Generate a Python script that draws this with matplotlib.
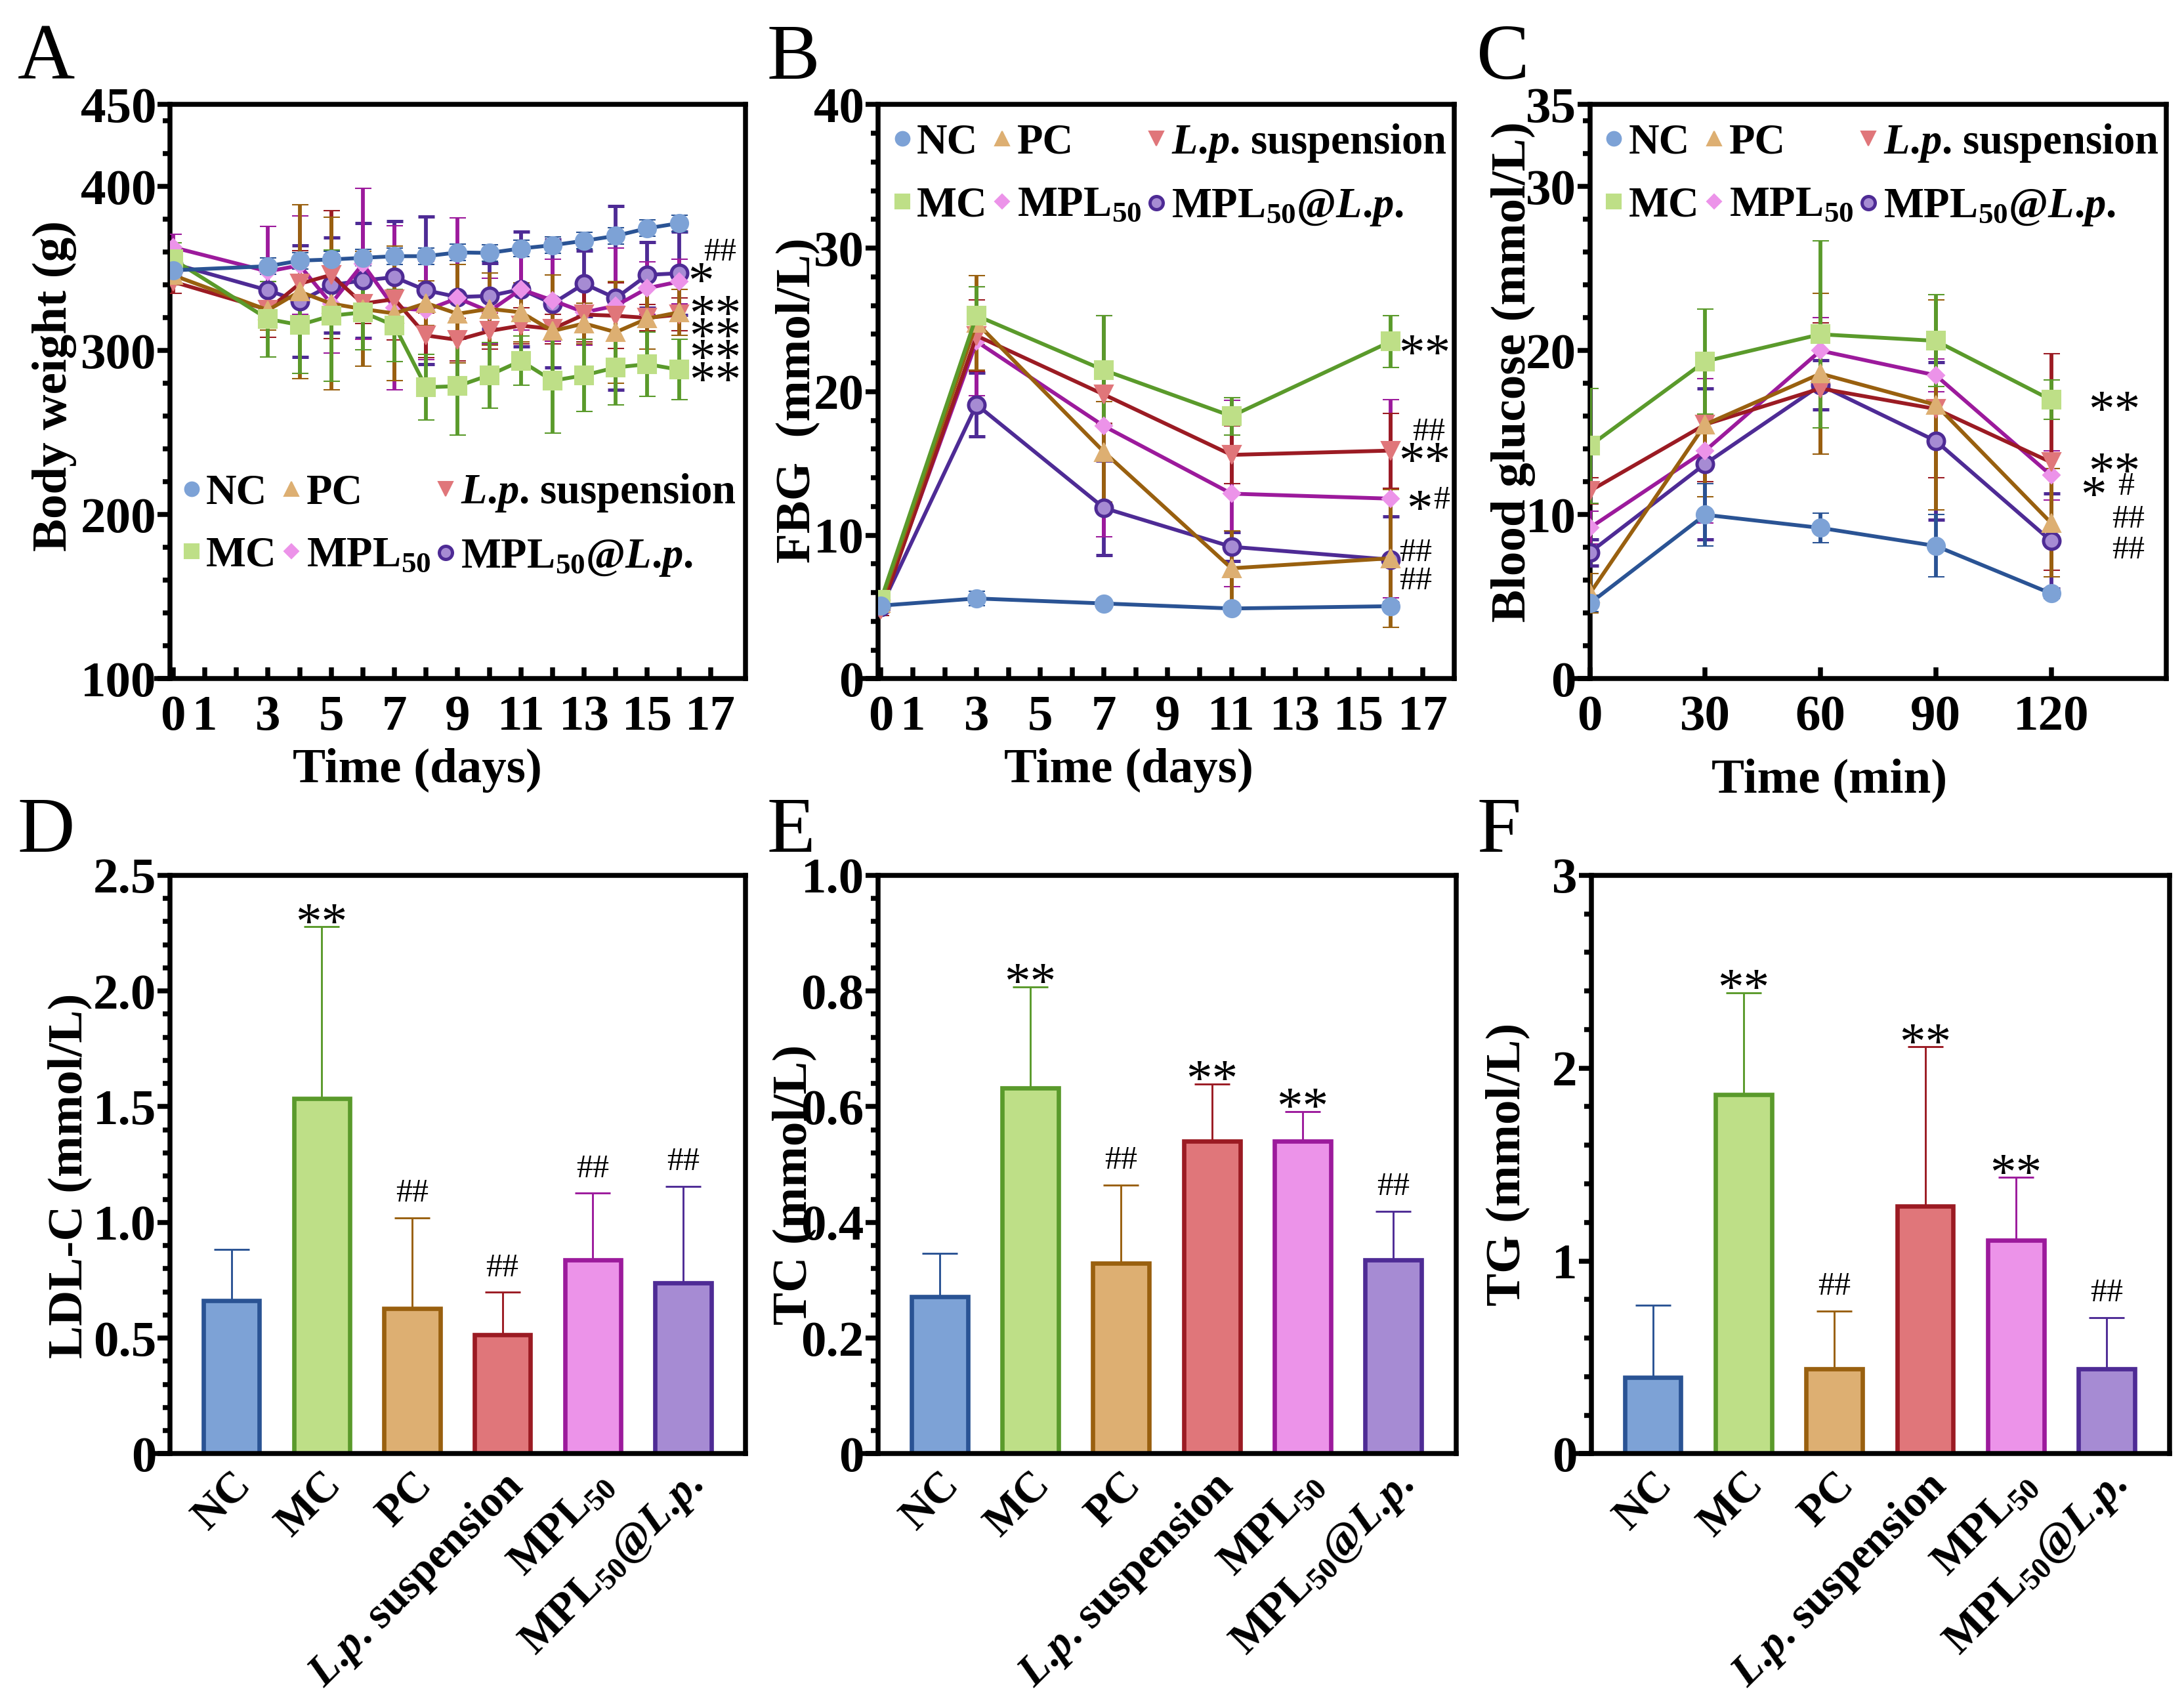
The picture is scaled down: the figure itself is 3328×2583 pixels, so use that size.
import numpy as np
import matplotlib
matplotlib.use('Agg')
import matplotlib.pyplot as plt
from matplotlib.lines import Line2D
from matplotlib.ticker import MultipleLocator, FixedLocator

plt.rcParams['font.family'] = ['Liberation Serif', 'DejaVu Serif']
plt.rcParams['font.weight'] = 'bold'
plt.rcParams['axes.labelweight'] = 'bold'
plt.rcParams['mathtext.fontset'] = 'custom'
plt.rcParams['mathtext.rm'] = 'Liberation Serif:bold'
plt.rcParams['mathtext.it'] = 'Liberation Serif:italic:bold'
plt.rcParams['mathtext.bf'] = 'Liberation Serif:bold'
plt.rcParams['mathtext.default'] = 'rm'

# ---------------- data ----------------
GROUP_KEYS = ['NC', 'MC', 'PC', 'LP', 'MPL', 'MPLLP']
GROUP_LABELS = ['NC', 'MC', 'PC', r'$\mathit{L}$.$\mathit{p}$. suspension', r'MPL$_{50}$',
                r'MPL$_{50}$@$\mathit{L}$.$\mathit{p}$.']

# Panel A: body weight
DAYS_A = [0, 3, 4, 5, 6, 7, 8, 9, 10, 11, 12, 13, 14, 15, 16]
BW_NC = [349, 351.5, 354.9, 355.6, 356.6, 357.6, 357.6, 359.9, 359.6, 362.3, 364.3, 367, 370, 374.6, 377.7]
BW_NC_SD = [5, 5, 5, 5, 5, 5, 5, 5, 5, 5, 5, 5, 5, 5, 5]
BW_MC = [355.6, 319.3, 315.7, 321.3, 323.4, 315.3, 277.7, 278.4, 285.1, 293.8, 281.7, 285, 289.8, 291.8, 288.4]
BW_MC_SD = [10, 23, 29.5, 40, 23, 22, 20, 30, 20, 15, 32, 22, 22.7, 19.6, 18.4]
BW_PC = [346, 324.7, 336, 328.7, 325.4, 322.7, 329, 322.5, 325.5, 323.4, 312, 316.6, 311.3, 319.6, 323.4]
BW_PC_SD = [6, 12, 53, 52.5, 35, 41, 13.5, 30, 22, 18, 34, 12.5, 31, 18.5, 14]
BW_LP = [342, 325, 340.8, 346.2, 328.7, 331.4, 309.3, 306.6, 312, 315.3, 313.3, 322, 321.3, 320, 322]
BW_LP_SD = [7, 17, 20, 39, 12, 25, 13.5, 13, 11, 11, 9, 16.5, 20, 8, 10]
BW_MPL = [363, 348.3, 352, 328.7, 352.9, 326, 324.7, 332, 324, 337.4, 330.7, 323.4, 327.4, 338.1, 342.1]
BW_MPL_SD = [8, 27.6, 30, 30, 46, 50, 30, 49, 20, 25, 25, 20, 35, 16, 13.5]
BW_MPLLP = [353, 336.8, 330, 340, 342.8, 344.8, 336.8, 332.7, 333.4, 337.4, 328.7, 340.8, 332, 346.2, 347.2]
BW_MPLLP_SD = [8, 15, 34, 29, 35, 34, 45, 25, 20, 35, 39, 20, 56, 20, 25.5]

# Panel B: FBG
DAYS_B = [0, 3, 7, 11, 16]
FBG_NC = [5.1, 5.6, 5.25, 4.9, 5.06]
FBG_NC_SD = [0.3, 0.5, 0.25, 0.25, 0.3]
FBG_MC = [5.5, 25.3, 21.5, 18.3, 23.5]
FBG_MC_SD = [0.4, 2.0, 3.8, 1.3, 1.8]
FBG_PC = [5.3, 24.8, 15.8, 7.7, 8.4]
FBG_PC_SD = [0.5, 3.3, 3.5, 2.6, 4.8]
FBG_LP = [4.8, 23.9, 19.8, 15.6, 15.9]
FBG_LP_SD = [0.4, 2.5, 2.0, 2.0, 2.6]
FBG_MPL = [5.0, 23.5, 17.6, 12.9, 12.55]
FBG_MPL_SD = [0.4, 3.8, 7.7, 6.5, 6.9]
FBG_MPLLP = [5.0, 19.1, 11.9, 9.2, 8.3]
FBG_MPLLP_SD = [0.3, 2.2, 3.3, 1.0, 3.0]

# Panel C: glucose tolerance
TIMES_C = [0, 30, 60, 90, 120]
OG_NC = [4.6, 10.0, 9.2, 8.1, 5.2]
OG_NC_SD = [0.5, 1.9, 0.9, 1.9, 0.3]
OG_MC = [14.2, 19.35, 21.0, 20.6, 17.0]
OG_MC_SD = [3.5, 3.2, 5.7, 2.8, 1.2]
OG_PC = [5.2, 15.5, 18.6, 16.7, 9.5]
OG_PC_SD = [1.2, 4.4, 4.9, 6.4, 3.3]
OG_LP = [11.45, 15.5, 17.7, 16.45, 13.2]
OG_LP_SD = [0.8, 3.5, 4.0, 4.2, 6.6]
OG_MPL = [9.2, 13.9, 20.0, 18.5, 12.4]
OG_MPL_SD = [1.0, 4.4, 2.0, 1.0, 1.5]
OG_MPLLP = [7.7, 13.1, 17.9, 14.5, 8.4]
OG_MPLLP_SD = [0.8, 4.6, 1.5, 4.8, 2.9]

# Panels D-F: bars
LDL = [0.663, 1.535, 0.629, 0.515, 0.837, 0.738]
LDL_SD = [0.221, 0.742, 0.391, 0.183, 0.289, 0.418]
LDL_MARK = ['', '**', '##', '##', '##', '##']
TC = [0.272, 0.632, 0.330, 0.540, 0.540, 0.335]
TC_SD = [0.075, 0.175, 0.135, 0.099, 0.052, 0.084]
TC_MARK = ['', '**', '##', '**', '**', '##']
TG = [0.395, 1.863, 0.440, 1.285, 1.107, 0.440]
TG_SD = [0.375, 0.527, 0.300, 0.825, 0.326, 0.266]
TG_MARK = ['', '**', '##', '**', '**', '##']

# ---------------- styles ----------------
LIGHT = {'NC': '#7DA2D6', 'MC': '#BEDF87', 'PC': '#DDAF72', 'LP': '#E0767A',
         'MPL': '#EC93E9', 'MPLLP': '#A68BD3'}
DARK = {'NC': '#2A5394', 'MC': '#5A9A2B', 'PC': '#99600F', 'LP': '#9B1B23',
        'MPL': '#9C1A9C', 'MPLLP': '#4E2B95'}
MARKER = {'NC': 'o', 'MC': 's', 'PC': '^', 'LP': 'v', 'MPL': 'D', 'MPLLP': 'o'}
MSIZE = {'NC': 6.5, 'MC': 6.5, 'PC': 6.5, 'LP': 6.5, 'MPL': 4.5, 'MPLLP': 6}
LABEL = dict(zip(GROUP_KEYS, GROUP_LABELS))

SPINE_LW = 1.8
TICK_FS = 18.5
AXLAB_FS = 18

fig = plt.figure(figsize=(3329 / 300, 2583 / 300), dpi=300)

POS = {
    'A': [0.0778, 0.5995, 0.2634, 0.3388],
    'B': [0.4018, 0.5995, 0.2640, 0.3388],
    'C': [0.7277, 0.5995, 0.2640, 0.3388],
    'D': [0.0778, 0.1423, 0.2634, 0.3413],
    'E': [0.4018, 0.1423, 0.2647, 0.3413],
    'F': [0.7283, 0.1423, 0.2647, 0.3413],
}
LETTER_XY = {'A': (0.008, 0.986), 'B': (0.351, 0.986), 'C': (0.676, 0.986),
             'D': (0.008, 0.530), 'E': (0.351, 0.530), 'F': (0.676, 0.530)}


def style_axes(ax):
    for s in ax.spines.values():
        s.set_linewidth(SPINE_LW)
        s.set_color('black')
    ax.tick_params(axis='y', which='major', direction='out', length=4.5, width=SPINE_LW,
                   labelsize=TICK_FS, pad=0.5)
    ax.tick_params(axis='y', which='minor', direction='out', length=2.6, width=SPINE_LW)
    # small extension of x axis line to the left of the y axis
    ax.plot([-0.027, 0], [0, 0], transform=ax.transAxes, color='black', lw=SPINE_LW,
            clip_on=False, solid_capstyle='butt', zorder=10)


def mark(ax, x, y, s, fs, dy=0, dx=0, weight='normal'):
    """Place an annotation; y is the desired visual centre of the glyphs."""
    if '*' in s:
        off = -0.52 * fs
    else:
        off = -0.34 * fs
    ax.annotate(s, xy=(x, y), xytext=(dx, off + dy), textcoords='offset points',
                ha='center', va='baseline', fontsize=fs, fontweight=weight,
                annotation_clip=False, zorder=20)


def line_panel(ax, x, data, order):
    for key in order:
        y, sd = data[key]
        mec = DARK['MPLLP'] if key == 'MPLLP' else LIGHT[key]
        ax.errorbar(x, y, yerr=sd, color=DARK[key], lw=1.4, elinewidth=1.4,
                    capsize=3, capthick=1.4, marker=MARKER[key], ms=MSIZE[key],
                    mfc=LIGHT[key], mec=mec, mew=1.2 if key == 'MPLLP' else 0.5,
                    zorder=3)


def add_legend(ax, anchor):
    order = ['NC', 'MC', 'PC', 'MPL', 'LP', 'MPLLP']
    handles = []
    for key in order:
        mec = DARK['MPLLP'] if key == 'MPLLP' else LIGHT[key]
        handles.append(Line2D([], [], ls='none', marker=MARKER[key],
                              ms=MSIZE[key] * 0.8, mfc=LIGHT[key], mec=mec,
                              mew=1.2 if key == 'MPLLP' else 0.5))
    ax.legend(handles, [LABEL[k] for k in order], ncol=3, loc='upper left',
              bbox_to_anchor=anchor, frameon=False, fontsize=15.5,
              handletextpad=0.05, columnspacing=0.05, labelspacing=0.55,
              handlelength=0.6, borderpad=0, borderaxespad=0)


def x_ticks_days(ax):
    ax.xaxis.set_major_locator(FixedLocator([0, 1, 3, 5, 7, 9, 11, 13, 15, 17]))
    ax.xaxis.set_minor_locator(FixedLocator([2, 4, 6, 8, 10, 12, 14, 16]))
    ax.tick_params(axis='x', which='both', direction='in', length=4, width=SPINE_LW,
                   labelsize=TICK_FS, pad=6)


# ---------------- Panel A ----------------
axA = fig.add_axes(POS['A'])
style_axes(axA)
dataA = {'NC': (BW_NC, BW_NC_SD), 'MC': (BW_MC, BW_MC_SD), 'PC': (BW_PC, BW_PC_SD),
         'LP': (BW_LP, BW_LP_SD), 'MPL': (BW_MPL, BW_MPL_SD), 'MPLLP': (BW_MPLLP, BW_MPLLP_SD)}
line_panel(axA, DAYS_A, dataA, ['MPLLP', 'MPL', 'LP', 'PC', 'MC', 'NC'])
axA.set_xlim(-0.1, 18.1)
axA.set_ylim(100, 450)
axA.yaxis.set_major_locator(FixedLocator([100, 200, 300, 400, 450]))
axA.yaxis.set_minor_locator(MultipleLocator(20))
x_ticks_days(axA)
axA.set_ylabel('Body weight (g)', fontsize=AXLAB_FS)
axA.yaxis.set_label_coords(-0.162, 0.51)
axA.set_xlabel('Time (days)', fontsize=AXLAB_FS)
axA.xaxis.set_label_coords(0.43, -0.121)
add_legend(axA, (0.015, 0.36))
mark(axA, 16.7, 349.6, '*', 19)
mark(axA, 17.3, 361.7, '##', 12)
for yv in [329.5, 316.0, 302.5, 289.0]:
    mark(axA, 17.15, yv, '**', 19)

# ---------------- Panel B ----------------
axB = fig.add_axes(POS['B'])
style_axes(axB)
dataB = {'NC': (FBG_NC, FBG_NC_SD), 'MC': (FBG_MC, FBG_MC_SD), 'PC': (FBG_PC, FBG_PC_SD),
         'LP': (FBG_LP, FBG_LP_SD), 'MPL': (FBG_MPL, FBG_MPL_SD),
         'MPLLP': (FBG_MPLLP, FBG_MPLLP_SD)}
line_panel(axB, DAYS_B, dataB, ['MPLLP', 'MPL', 'LP', 'PC', 'MC', 'NC'])
axB.set_xlim(-0.1, 18.0)
axB.set_ylim(0, 40)
axB.yaxis.set_major_locator(MultipleLocator(10))
axB.yaxis.set_minor_locator(MultipleLocator(2))
x_ticks_days(axB)
axB.set_ylabel('FBG  (mmol/L)', fontsize=AXLAB_FS)
axB.yaxis.set_label_coords(-0.101, 0.485)
axB.set_xlabel('Time (days)', fontsize=AXLAB_FS)
axB.xaxis.set_label_coords(0.435, -0.121)
add_legend(axB, (0.02, 0.97))
mark(axB, 17.06, 23.5, '**', 19)
mark(axB, 17.2, 17.4, '##', 12)
mark(axB, 17.06, 16.0, '**', 19)
mark(axB, 16.9, 12.66, '*', 19)
mark(axB, 17.6, 12.66, '#', 12)
mark(axB, 16.77, 9.0, '##', 12)
mark(axB, 16.77, 7.0, '##', 12)

# ---------------- Panel C ----------------
axC = fig.add_axes(POS['C'])
style_axes(axC)
dataC = {'NC': (OG_NC, OG_NC_SD), 'MC': (OG_MC, OG_MC_SD), 'PC': (OG_PC, OG_PC_SD),
         'LP': (OG_LP, OG_LP_SD), 'MPL': (OG_MPL, OG_MPL_SD),
         'MPLLP': (OG_MPLLP, OG_MPLLP_SD)}
line_panel(axC, TIMES_C, dataC, ['MPLLP', 'MPL', 'LP', 'PC', 'MC', 'NC'])
axC.set_xlim(0, 150)
axC.set_ylim(0, 35)
axC.yaxis.set_major_locator(FixedLocator([0, 10, 20, 30, 35]))
axC.yaxis.set_minor_locator(MultipleLocator(2))
axC.xaxis.set_major_locator(FixedLocator([0, 30, 60, 90, 120]))
axC.tick_params(axis='x', which='both', direction='in', length=4, width=SPINE_LW,
                labelsize=TICK_FS, pad=6)
axC.set_ylabel('Blood glucose (mmol/L)', fontsize=AXLAB_FS)
axC.yaxis.set_label_coords(-0.094, 0.535)
axC.set_xlabel('Time (min)', fontsize=AXLAB_FS)
axC.xaxis.set_label_coords(0.415, -0.138)
add_legend(axC, (0.02, 0.97))
mark(axC, 136.4, 17.1, '**', 19)
mark(axC, 136.4, 13.35, '**', 19)
mark(axC, 131, 11.9, '*', 19)
mark(axC, 139.4, 11.9, '#', 12)
mark(axC, 140, 9.9, '##', 12)
mark(axC, 140, 8.0, '##', 12)

# ---------------- Bar panels ----------------
def bar_panel(ax, vals, sds, marks, ylim, major, minor, labels, ylabel, ylab_xy):
    style_axes(ax)
    x = np.arange(len(vals))
    for i, key in enumerate(GROUP_KEYS):
        ax.bar(x[i], vals[i], width=0.62, color=LIGHT[key], edgecolor=DARK[key],
               linewidth=1.6, zorder=2)
        ax.errorbar(x[i], vals[i], yerr=[[0], [sds[i]]], color=DARK[key],
                    elinewidth=0.7, capsize=6.5, capthick=0.7, zorder=1)
        top = vals[i] + sds[i]
        if marks[i] == '**':
            mark(ax, x[i], top, '**', 19, dy=6)
        elif marks[i]:
            mark(ax, x[i], top, marks[i], 12, dy=10)
    ax.set_xlim(-0.68, 5.69)
    ax.set_ylim(*ylim)
    ax.yaxis.set_major_locator(FixedLocator(major))
    ax.yaxis.set_minor_locator(MultipleLocator(minor))
    ax.set_yticklabels(labels)
    ax.set_xticks(x)
    ax.set_xticklabels(GROUP_LABELS, rotation=45, ha='right', va='top',
                       rotation_mode='anchor', fontsize=16)
    ax.tick_params(axis='x', length=0, pad=4)
    ax.set_ylabel(ylabel, fontsize=AXLAB_FS)
    ax.yaxis.set_label_coords(*ylab_xy)


axD = fig.add_axes(POS['D'])
bar_panel(axD, LDL, LDL_SD, LDL_MARK, (0, 2.5), [0, 0.5, 1.0, 1.5, 2.0, 2.5], 0.1,
          ['0', '0.5', '1.0', '1.5', '2.0', '2.5'], 'LDL-C (mmol/L)', (-0.136, 0.48))
axE = fig.add_axes(POS['E'])
bar_panel(axE, TC, TC_SD, TC_MARK, (0, 1.0), [0, 0.2, 0.4, 0.6, 0.8, 1.0], 0.04,
          ['0', '0.2', '0.4', '0.6', '0.8', '1.0'], 'TC (mmol/L)', (-0.106, 0.465))
axF = fig.add_axes(POS['F'])
bar_panel(axF, TG, TG_SD, TG_MARK, (0, 3), [0, 1, 2, 3], 0.2,
          ['0', '1', '2', '3'], 'TG (mmol/L)', (-0.106, 0.5))

for k, (lx, ly) in LETTER_XY.items():
    fig.text(lx, ly, k, fontsize=29, fontweight='normal', ha='left', va='top')

fig.savefig('out.png', dpi=300)
